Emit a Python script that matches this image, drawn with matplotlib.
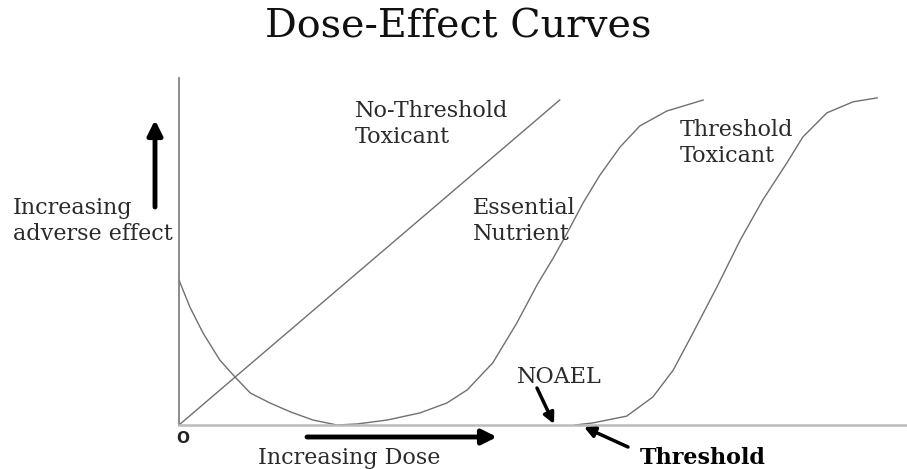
import matplotlib
matplotlib.use("Agg")
import matplotlib.pyplot as plt
from matplotlib.patches import FancyArrowPatch

plt.rcParams['font.family'] = ['DejaVu Serif']

# dose / effect values (arbitrary units)
no_thr_dose = [0, 52.3]
no_thr_eff = [0, 91.5]

nutr_dose = [0, 1.5, 3.3, 5.6, 7.7, 9.8, 12.5, 15.3, 18.4, 21.7, 24.5, 28.6,
             33.1, 36.8, 39.6, 43.1, 46.4, 49.2, 51.4, 53.3, 55.5, 57.8, 60.6,
             63.3, 67.0, 72.0]
nutr_eff = [40.8, 33.2, 25.9, 18.3, 13.5, 9.0, 6.2, 3.7, 1.4, 0.0, 0.3, 1.4,
            3.4, 6.2, 9.9, 17.5, 28.7, 39.5, 47.0, 54.0, 62.5, 70.3, 78.3,
            84.2, 88.4, 91.5]

thr_dose = [54.4, 56.9, 61.5, 65.1, 67.9, 70.6, 73.9, 77.1, 80.2, 83.5, 85.7,
            89.0, 92.6, 95.9]
thr_eff = [0.0, 0.6, 2.5, 7.9, 15.5, 25.9, 38.9, 52.1, 63.4, 73.8, 81.1,
           87.9, 91.0, 92.1]

W, H = 907, 469
fig = plt.figure(figsize=(W / 100, H / 100), dpi=100)
ax = fig.add_axes([179 / W, 44 / H, 728 / W, 347 / H])
ax.set_xlim(0, 100)
ax.set_ylim(0, 97.7)

curve_col = '#707070'
ax.plot(no_thr_dose, no_thr_eff, color=curve_col, lw=1.0)
ax.plot(nutr_dose, nutr_eff, color=curve_col, lw=1.0)
ax.plot(thr_dose, thr_eff, color=curve_col, lw=1.0)

for s in ['top', 'right']:
    ax.spines[s].set_visible(False)
ax.spines['left'].set_color('#777777')
ax.spines['left'].set_linewidth(1.2)
ax.spines['bottom'].set_color('#bbbbbb')
ax.spines['bottom'].set_linewidth(1.8)
ax.set_xticks([])
ax.set_yticks([])


def fx(x):
    return x / W


def fy(y):
    return 1 - y / H


fig.text(fx(458), fy(37), 'Dose-Effect Curves', fontsize=28.5, ha='center', va='baseline',
         color='#111111')

lab = dict(fontsize=16, ha='left', va='center', color='#2a2a2a', linespacing=1.2)
fig.text(fx(13), fy(221), 'Increasing\nadverse effect', **lab)
fig.text(fx(355), fy(124), 'No-Threshold\nToxicant', **lab)
fig.text(fx(473), fy(221), 'Essential\nNutrient', **lab)
fig.text(fx(680), fy(143), 'Threshold\nToxicant', **lab)
fig.text(fx(517), fy(377), 'NOAEL', **lab)
fig.text(fx(258), fy(458), 'Increasing Dose', **lab)
fig.text(fx(640), fy(458), 'Threshold', fontsize=16, fontweight='bold', ha='left', va='center',
         color='black')
fig.text(fx(183), fy(438), 'O', fontsize=11, family='DejaVu Sans', fontweight='bold',
         ha='center', va='center', color='#222222')

arr = dict(arrowstyle='-|>', lw=3.5, color='black', mutation_scale=22, shrinkA=0, shrinkB=0)
arr2 = dict(arrowstyle='-|>', lw=2.5, color='black', mutation_scale=16, shrinkA=0, shrinkB=0)
fig.add_artist(FancyArrowPatch((fx(155), fy(207)), (fx(155), fy(120)),
                               transform=fig.transFigure, **arr))
fig.add_artist(FancyArrowPatch((fx(307), fy(437)), (fx(497), fy(437)),
                               transform=fig.transFigure, **arr))
fig.add_artist(FancyArrowPatch((fx(537), fy(388)), (fx(554), fy(424)),
                               transform=fig.transFigure, **arr2))
fig.add_artist(FancyArrowPatch((fx(628), fy(447)), (fx(584), fy(427)),
                               transform=fig.transFigure, **arr2))

fig.savefig('out.png', dpi=100)
